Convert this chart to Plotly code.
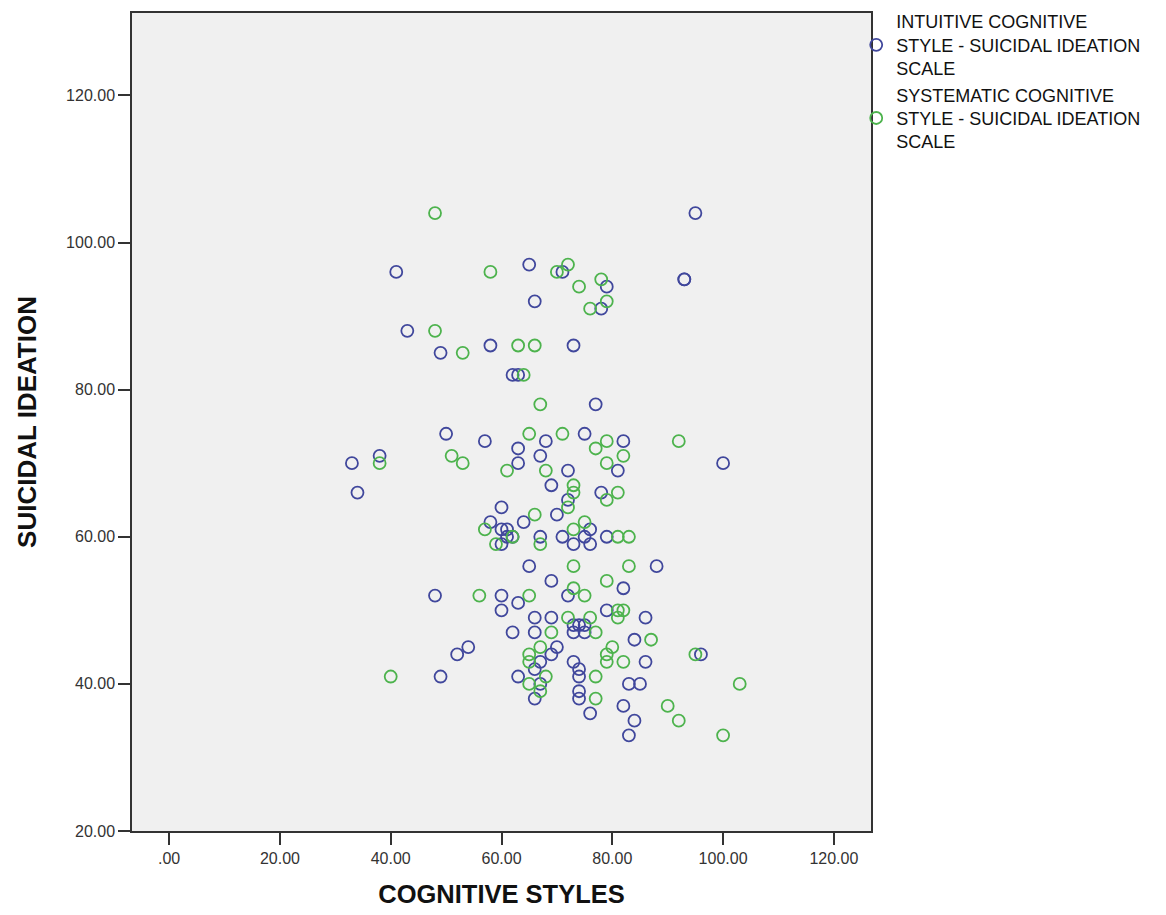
import plotly.graph_objects as go

# Intuitive cognitive style (x) vs suicidal ideation (y)
intuitive_x = [41, 65, 71, 66, 43, 49, 58, 95, 93, 93, 79, 78, 73,
               62, 63, 50, 57, 68, 33, 38, 34, 63, 63, 67, 69, 60, 70, 64, 58, 60, 61, 61, 62, 60, 67, 71, 76, 73, 75, 76, 79,
               77, 75, 82, 81, 72, 72, 78, 100,
               65, 69, 48, 60, 63, 60, 66, 69, 62, 66, 54, 52, 49, 67, 69, 63, 67, 66, 66,
               88, 72, 82, 79, 86, 73, 74, 75, 73, 75, 84, 86, 96, 73, 70, 74, 74, 83, 85, 74, 74, 76, 82, 84, 83]
intuitive_y = [96, 97, 96, 92, 88, 85, 86, 104, 95, 95, 94, 91, 86,
               82, 82, 74, 73, 73, 70, 71, 66, 72, 70, 71, 67, 64, 63, 62, 62, 61, 61, 60, 60, 59, 60, 60, 61, 59, 60, 59, 60,
               78, 74, 73, 69, 69, 65, 66, 70,
               56, 54, 52, 52, 51, 50, 49, 49, 47, 47, 45, 44, 41, 43, 44, 41, 40, 38, 42,
               56, 52, 53, 50, 49, 48, 48, 48, 47, 47, 46, 43, 44, 43, 45, 42, 41, 40, 40, 39, 38, 36, 37, 35, 33]

# Systematic cognitive style (x) vs suicidal ideation (y)
systematic_x = [48, 58, 70, 72, 48, 53, 63, 66, 74, 78, 79, 76,
                64, 67, 65, 71, 38, 51, 53, 61, 68, 66, 57, 62, 59, 67, 73, 75, 81, 83,
                79, 77, 82, 79, 92, 73, 73, 72, 81, 79,
                56, 65, 69, 40, 67, 65, 65, 65, 68, 67,
                73, 83, 79, 73, 75, 81, 82, 81, 72, 76, 77, 87, 80, 79, 79, 82, 95, 77, 103, 77, 90, 92, 100]
systematic_y = [104, 96, 96, 97, 88, 85, 86, 86, 94, 95, 92, 91,
                82, 78, 74, 74, 70, 71, 70, 69, 69, 63, 61, 60, 59, 59, 61, 62, 60, 60,
                73, 72, 71, 70, 73, 67, 66, 64, 66, 65,
                52, 52, 47, 41, 45, 44, 43, 40, 41, 39,
                56, 56, 54, 53, 52, 50, 50, 49, 49, 49, 47, 46, 45, 44, 43, 43, 44, 41, 40, 38, 37, 35, 33]

x_tick_vals = [0, 20, 40, 60, 80, 100, 120]
x_tick_text = [".00", "20.00", "40.00", "60.00", "80.00", "100.00", "120.00"]
y_tick_vals = [20, 40, 60, 80, 100, 120]
y_tick_text = ["20.00", "40.00", "60.00", "80.00", "100.00", "120.00"]

series_names = ["INTUITIVE COGNITIVE<br>STYLE - SUICIDAL IDEATION<br>SCALE",
                "SYSTEMATIC COGNITIVE<br>STYLE - SUICIDAL IDEATION<br>SCALE"]
colors = ["#40479C", "#4DB34D"]

fig = go.Figure()
for name, xs, ys, c in [(series_names[0], intuitive_x, intuitive_y, colors[0]),
                        (series_names[1], systematic_x, systematic_y, colors[1])]:
    fig.add_trace(go.Scatter(
        x=xs, y=ys, mode="markers", name=name,
        marker=dict(symbol="circle-open", size=12, color=c, line=dict(width=1.8, color=c)),
    ))

font_main = "Liberation Sans, Arial, sans-serif"

fig.update_layout(
    width=1150, height=900,
    paper_bgcolor="white", plot_bgcolor="#F0F0F0",
    margin=dict(l=124, r=287, t=5, b=77, autoexpand=False),
    font=dict(family=font_main, color="#222"),
    showlegend=True,
    legend=dict(x=0.980, y=1.012, xanchor="left", yanchor="top",
                font=dict(size=18, color="#111", family=font_main),
                bgcolor="rgba(0,0,0,0)", tracegroupgap=0, itemwidth=30),
    xaxis=dict(range=[-6.7, 126.7], tickvals=x_tick_vals, ticktext=x_tick_text,
               showgrid=False, zeroline=False, showline=True, mirror=True,
               linecolor="#333", linewidth=1.5, ticks="outside", ticklen=12,
               tickcolor="#333", tickwidth=1.5,
               tickfont=dict(size=16, color="#333"),
               title=dict(text="<b>COGNITIVE STYLES</b>", font=dict(size=25.5, color="#111"), standoff=19)),
    yaxis=dict(range=[20, 131.2], tickvals=y_tick_vals, ticktext=y_tick_text,
               showgrid=False, zeroline=False, showline=True, mirror=True,
               linecolor="#333", linewidth=1.5, ticks="outside", ticklen=12,
               tickcolor="#333", tickwidth=1.5,
               tickfont=dict(size=16, color="#333"),
               title=dict(text="<b>SUICIDAL IDEATION</b>", font=dict(size=26, color="#111"), standoff=22)),
)

fig.write_html("out.html")
